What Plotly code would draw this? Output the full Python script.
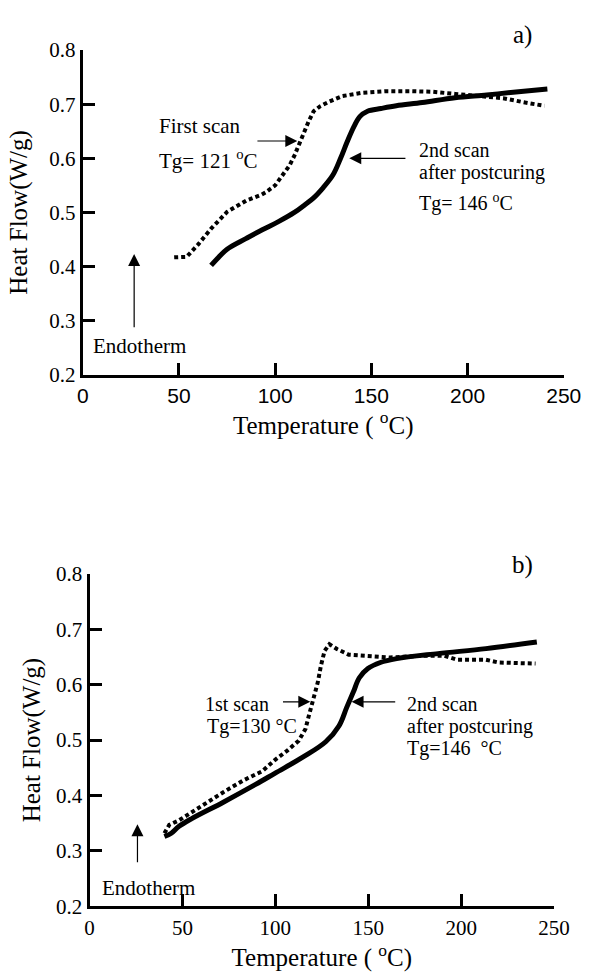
import plotly.graph_objects as go

# ---------------- Data ----------------
# Panel a)
a_first_T = [47.5, 51, 54, 60, 66.7, 75, 85, 93, 95, 100, 104, 107.5, 110, 112.5,
             115, 117.5, 120, 123.3, 128.3, 135, 145, 158, 170, 181.5, 193.5,
             206.5, 218.5, 230, 240]
a_first_HF = [0.417, 0.417, 0.418, 0.441, 0.470, 0.501, 0.522, 0.533, 0.537, 0.550,
              0.569, 0.587, 0.605, 0.627, 0.649, 0.669, 0.687, 0.696, 0.705, 0.715,
              0.721, 0.724, 0.724, 0.723, 0.719, 0.715, 0.711, 0.703, 0.697]

a_second_T = [66.7, 70, 75, 85, 93.3, 101.7, 110, 115, 120, 125, 130, 134,
              137.5, 141, 144, 148, 155, 163, 176.5, 193.5, 210, 226.5, 241.5]
a_second_HF = [0.402, 0.415, 0.432, 0.452, 0.468, 0.483, 0.500, 0.513, 0.527,
               0.546, 0.569, 0.600, 0.631, 0.659, 0.677, 0.687, 0.692, 0.697, 0.703,
               0.712, 0.717, 0.723, 0.728]

# Panel b)
b_first_T = [40.3, 42.9, 48, 54.8, 65, 72, 82.6, 93, 99.7, 106.4, 112.6, 116.2,
             117.8, 119.3, 121.4, 122.9, 124.5, 126.5, 129.1, 133.3, 139.5, 149.8,
             161.7, 178.7, 191, 197.8, 213.3, 220, 240]
b_first_HF = [0.332, 0.347, 0.355, 0.370, 0.392, 0.406, 0.427, 0.444, 0.464, 0.481,
              0.499, 0.520, 0.541, 0.561, 0.582, 0.605, 0.634, 0.661, 0.673, 0.664,
              0.654, 0.651, 0.649, 0.652, 0.652, 0.645, 0.645, 0.640, 0.638]

b_second_T = [40.3, 44, 48, 54.8, 72, 89.4, 99.7, 115.2, 127.1, 134.3, 138.4, 142,
              145.1, 149.8, 156.5, 165.3, 187.5, 213.3, 240.7]
b_second_HF = [0.326, 0.332, 0.344, 0.358, 0.388, 0.420, 0.440, 0.470, 0.497, 0.526,
               0.559, 0.587, 0.612, 0.629, 0.640, 0.647, 0.656, 0.665, 0.677]

x_ticks = [0, 50, 100, 150, 200, 250]
x_tick_labels = ["0", "50", "100", "150", "200", "250"]
y_ticks = [0.2, 0.3, 0.4, 0.5, 0.6, 0.7, 0.8]
y_tick_labels = ["0.2", "0.3", "0.4", "0.5", "0.6", "0.7", "0.8"]

SERIF = "Liberation Serif, Times New Roman, serif"
SANS = "Liberation Sans, Arial, sans-serif"
W, H = 599, 973

fig = go.Figure()
fig.add_trace(go.Scatter(x=a_first_T, y=a_first_HF, mode="lines", xaxis="x", yaxis="y",
                         line=dict(color="black", width=4, dash="4px,3px"),
                         name="First scan"))
fig.add_trace(go.Scatter(x=a_second_T, y=a_second_HF, mode="lines", xaxis="x", yaxis="y",
                         line=dict(color="black", width=5, shape="spline"),
                         name="2nd scan after postcuring"))
fig.add_trace(go.Scatter(x=b_first_T, y=b_first_HF, mode="lines", xaxis="x2", yaxis="y2",
                         line=dict(color="black", width=4, dash="4px,3px"),
                         name="1st scan"))
fig.add_trace(go.Scatter(x=b_second_T, y=b_second_HF, mode="lines", xaxis="x2", yaxis="y2",
                         line=dict(color="black", width=5, shape="spline"),
                         name="2nd scan after postcuring"))

axis_common = dict(showline=True, linecolor="black", linewidth=3, mirror=False,
                   ticks="inside", ticklen=12, tickwidth=3, tickcolor="black",
                   showgrid=False, zeroline=False)

title_x = "Temperature ( <sup>o</sup>C)"
title_y = "Heat Flow(W/g)"

fig.update_layout(
    width=W, height=H, autosize=False,
    margin=dict(l=0, r=0, t=0, b=0),
    paper_bgcolor="white", plot_bgcolor="white",
    showlegend=False,
    font=dict(family=SERIF, color="black", size=21),
    xaxis=dict(domain=[80 / W, 581 / W], range=[0, 250], anchor="y",
               tickvals=x_ticks, ticktext=x_tick_labels,
               tickfont=dict(family=SANS, size=21),
               title=dict(text=title_x, font=dict(family=SERIF, size=25), standoff=5),
               **axis_common),
    yaxis=dict(domain=[1 - 372 / H, 1 - 39 / H], range=[0.2, 0.8], anchor="x",
               tickvals=y_ticks, ticktext=y_tick_labels,
               tickfont=dict(family=SERIF, size=21),
               title=dict(text=title_y, font=dict(family=SERIF, size=25), standoff=15),
               **axis_common),
    xaxis2=dict(domain=[87 / W, 571 / W], range=[0, 250], anchor="y2",
                tickvals=x_ticks, ticktext=x_tick_labels,
                tickfont=dict(family=SERIF, size=21),
                title=dict(text=title_x, font=dict(family=SERIF, size=25), standoff=6),
                **axis_common),
    yaxis2=dict(domain=[1 - 917 / H, 1 - 576 / H], range=[0.2, 0.8], anchor="x2",
                tickvals=y_ticks, ticktext=y_tick_labels,
                tickfont=dict(family=SERIF, size=21),
                title=dict(text=title_y, font=dict(family=SERIF, size=25), standoff=9),
                **axis_common),
)

def txt(x, y, s, xr, yr, anchor="left", size=21):
    fig.add_annotation(x=x, y=y, xref=xr, yref=yr, text=s, showarrow=False,
                       xanchor=anchor, yanchor="middle",
                       font=dict(family=SERIF, size=size, color="black"))

def arrow(x, y, ax, ay, xr, yr):
    fig.add_annotation(x=x, y=y, ax=ax, ay=ay, xref=xr, yref=yr, axref=xr, ayref=yr,
                       text="", showarrow=True, arrowhead=2, arrowsize=2.0,
                       arrowwidth=1.2, arrowcolor="black")

# Panel a annotations (0.1 of heat flow = 55.5 px in panel a, 56.8 px in panel b)
txt(38.5, 0.659, "First scan", "x", "y")
txt(38.5, 0.598, "Tg= 121 <sup>o</sup>C", "x", "y")
arrow(111.5, 0.632, 90, 0.632, "x", "y")
txt(173.5, 0.615, "2nd scan", "x", "y", size=20)
txt(173.5, 0.573, "after postcuring", "x", "y", size=20)
txt(173.5, 0.519, "Tg= 146 <sup>o</sup>C", "x", "y", size=20)
arrow(138.5, 0.600, 168.5, 0.600, "x", "y")
arrow(26.7, 0.423, 26.7, 0.285, "x", "y")
txt(29.5, 0.254, "Endotherm", "x", "y", anchor="center")
fig.add_annotation(x=538 / W, y=1 - 24 / H, xref="paper", yref="paper", text="a)",
                   showarrow=False, xanchor="center", yanchor="middle",
                   font=dict(family=SERIF, size=25, color="black"))

# Panel b annotations
txt(61, 0.566, "1st scan", "x2", "y2", size=20)
txt(62, 0.524, "Tg=130 °C", "x2", "y2", size=20)
arrow(118.8, 0.569, 103.3, 0.569, "x2", "y2")
txt(170, 0.566, "2nd scan", "x2", "y2", size=20)
txt(170, 0.525, "after postcuring", "x2", "y2", size=20)
txt(170, 0.484, "Tg=146\u00a0\u00a0°C", "x2", "y2", size=20)
arrow(141, 0.569, 165.3, 0.569, "x2", "y2")
arrow(25.8, 0.348, 25.8, 0.277, "x2", "y2")
txt(31.6, 0.233, "Endotherm", "x2", "y2", anchor="center")
fig.add_annotation(x=538 / W, y=1 - 567 / H, xref="paper", yref="paper", text="b)",
                   showarrow=False, xanchor="center", yanchor="middle",
                   font=dict(family=SERIF, size=25, color="black"))

fig.write_html("out.html")
